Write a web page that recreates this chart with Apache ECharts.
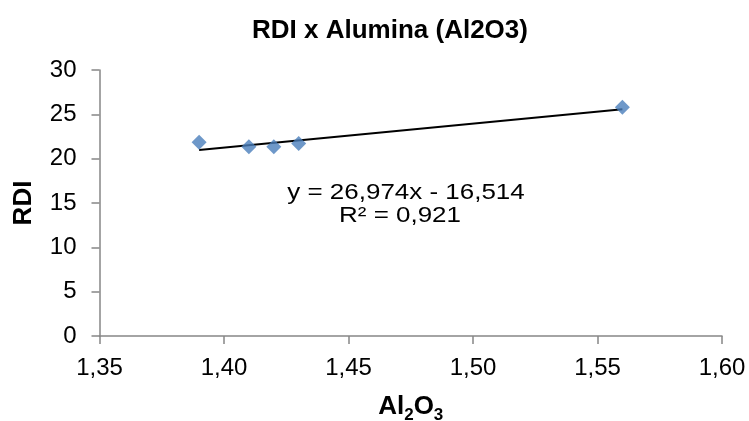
<!DOCTYPE html>
<html><head><meta charset="utf-8">
<script src="https://cdn.jsdelivr.net/npm/echarts@6/dist/echarts.min.js"></script>
<style>html,body{margin:0;padding:0;background:#fff}#c{width:749px;height:421px}</style>
</head><body><div id="c"></div>
<script>
const xValues = [1.39, 1.41, 1.42, 1.43, 1.56];
const rdiValues = [21.85, 21.33, 21.33, 21.7, 25.8];
const trendCoef = [26.974, -16.514];
const trendRange = [1.39, 1.56];
const xTicks = [1.35, 1.40, 1.45, 1.50, 1.55, 1.60];
const yTicks = [0, 5, 10, 15, 20, 25, 30];
const eqLabels = ['y = 26,974x - 16,514', 'R² = 0,921'];

const points = xValues.map((x, i) => [x, rdiValues[i]]);
const trend = trendRange.map(x => [x, trendCoef[0] * x + trendCoef[1]]);
const font = 'Liberation Sans, Arial, sans-serif';

const chart = echarts.init(document.getElementById('c'), null, {renderer: 'canvas'});
chart.setOption({
  animation: false,
  backgroundColor: '#fff',
  title: {
    text: 'RDI x Alumina (Al2O3)', left: 247, top: 13,
    textStyle: {fontFamily: font, fontSize: 26, fontWeight: 'bold', color: '#000'}
  },
  grid: {left: 99.5, right: 27, top: 70, bottom: 85, containLabel: false, outerBoundsMode: 'none'},
  xAxis: {
    type: 'value', min: xTicks[0], max: xTicks[xTicks.length - 1], interval: 0.05,
    axisLine: {show: true, lineStyle: {color: '#868686', width: 1.5}},
    axisTick: {show: true, length: 8, lineStyle: {color: '#868686', width: 1.5}},
    splitLine: {show: false},
    axisLabel: {color: '#000', fontFamily: font, fontSize: 24, margin: 20,
      formatter: v => v.toFixed(2).replace('.', ',')},
    name: '{b|Al}{s|2}{b|O}{s|3}', nameLocation: 'middle', nameGap: 58,
    nameTextStyle: {rich: {
      b: {fontFamily: font, fontSize: 26, fontWeight: 'bold', color: '#000', verticalAlign: 'bottom'},
      s: {fontFamily: font, fontSize: 17, fontWeight: 'bold', color: '#000', verticalAlign: 'bottom', padding: [0,0,-4,0]}
    }}
  },
  yAxis: {
    type: 'value', min: yTicks[0], max: yTicks[yTicks.length - 1], interval: 5,
    axisLine: {show: true, lineStyle: {color: '#868686', width: 1.5}},
    axisTick: {show: true, length: 8, lineStyle: {color: '#868686', width: 1.5}},
    splitLine: {show: false},
    axisLabel: {color: '#000', fontFamily: font, fontSize: 24, margin: 23},
    name: 'RDI', nameLocation: 'middle', nameGap: 63, nameRotate: 90,
    nameTextStyle: {fontFamily: font, fontSize: 26, fontWeight: 'bold', color: '#000'}
  },
  series: [
    {
      type: 'line', data: trend, symbol: 'none', silent: true,
      lineStyle: {color: '#000', width: 2}, z: 2
    },
    {
      type: 'scatter', data: points, symbol: 'diamond', symbolSize: [15, 15],
      itemStyle: {color: '#4A7EBB'}, z: 3
    }
  ],
  graphic: [
    {type: 'text', x: 406, y: 193, scaleX: 1.18,
     style: {text: eqLabels[0], font: '22px ' + font, fill: '#000', align: 'center', verticalAlign: 'middle'}},
    {type: 'text', x: 400, y: 216, scaleX: 1.18,
     style: {text: eqLabels[1], font: '22px ' + font, fill: '#000', align: 'center', verticalAlign: 'middle'}}
  ]
});
</script></body></html>
